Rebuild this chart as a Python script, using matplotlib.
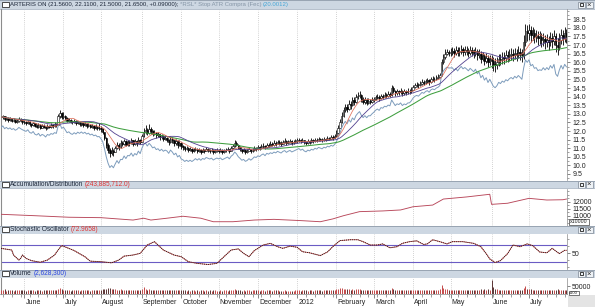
import numpy as np
import pandas as pd
import matplotlib
matplotlib.use("Agg")
import matplotlib.pyplot as plt
from matplotlib.patches import Rectangle
from matplotlib.transforms import ScaledTranslation
from matplotlib.ticker import MultipleLocator, FixedLocator

plt.rcParams['font.family'] = ['Liberation Sans', 'DejaVu Sans']

# ---------------- data (daily, trading days from 2011-05-13) ----------------
closes = [
    # May 2011
    12.80, 12.85, 12.70, 12.75, 12.65, 12.70, 12.60, 12.65, 12.55, 12.60, 12.70, 12.62, 12.55,
    # Jun
    12.50, 12.45, 12.55, 12.40, 12.35, 12.45, 12.30, 12.25, 12.35, 12.20, 12.30, 12.25, 12.15, 12.30,
    12.25, 12.35, 12.30, 12.40, 12.35, 12.85, 13.05, 12.80,
    # Jul
    12.90, 12.75, 12.60, 12.65, 12.55, 12.50, 12.60, 12.45, 12.50, 12.40, 12.45, 12.35, 12.40, 12.30,
    12.35, 12.25, 12.30, 12.20, 12.25, 12.15, 12.20,
    # Aug
    12.10, 11.95, 11.60, 11.20, 10.90, 10.70, 10.85, 10.75, 11.00, 11.20, 11.05, 11.30, 11.25, 11.40,
    11.20, 11.35, 11.30, 11.45, 11.25, 11.40, 11.30, 11.50, 11.35,
    # Sep
    11.70, 11.95, 12.05, 11.90, 12.10, 12.00, 11.85, 11.90, 11.75, 11.80, 11.65, 11.70, 11.55, 11.60,
    11.50, 11.35, 11.55, 11.45, 11.30, 11.40, 11.20, 11.30,
    # Oct
    11.10, 11.05, 10.95, 11.00, 10.90, 10.95, 10.85, 10.90, 10.95, 10.85, 10.90, 10.80, 10.90, 10.85,
    10.95, 10.90, 10.85, 10.90, 10.80, 10.85, 10.90,
    # Nov
    10.85, 10.90, 10.80, 10.85, 10.90, 10.95, 10.85, 11.00, 11.10, 11.30, 11.20, 11.05, 10.95, 10.85,
    10.90, 10.80, 10.85, 10.95, 10.85, 10.90, 11.00, 10.95,
    # Dec
    11.05, 11.00, 11.10, 11.15, 11.05, 11.20, 11.15, 11.25, 11.20, 11.30, 11.25, 11.35, 11.30, 11.25,
    11.35, 11.40, 11.30, 11.35, 11.40, 11.30, 11.35, 11.40,
    # Jan 2012
    11.45, 11.50, 11.40, 11.45, 11.35, 11.30, 11.40, 11.35, 11.45, 11.40, 11.50, 11.45, 11.55, 11.50,
    11.45, 11.55, 11.50, 11.60, 11.55, 11.65, 11.60, 11.70,
    # Feb
    11.90, 12.20, 12.50, 12.90, 13.20, 13.40, 13.30, 13.60, 13.50, 13.80, 13.70, 13.95, 14.05, 14.10,
    13.85, 13.70, 13.80, 13.65, 13.75, 13.70, 13.80,
    # Mar
    13.85, 13.95, 14.00, 13.90, 14.05, 14.00, 14.10, 14.05, 14.15, 14.10, 14.50, 14.35, 14.20, 14.30,
    14.25, 14.35, 14.20, 14.30, 14.25, 14.35, 14.30, 14.40,
    # Apr
    14.55, 14.65, 14.70, 14.65, 14.75, 14.85, 14.80, 14.90, 14.95, 14.85, 15.00, 15.05, 15.00, 15.10,
    15.15, 15.25, 16.00, 16.30, 16.50, 16.60, 16.55,
    # May
    16.60, 16.65, 16.55, 16.70, 16.60, 16.65, 16.75, 16.60, 16.70, 16.65, 16.55, 16.70, 16.60, 16.50,
    16.65, 16.40, 16.50, 16.20, 16.35, 16.10, 16.25, 16.00, 16.20,
    # Jun
    16.05, 15.90, 15.85, 16.00, 16.20, 16.15, 16.30, 16.25, 16.40, 16.35, 16.45, 16.50, 16.40, 16.55,
    16.45, 16.60, 16.50, 16.40, 17.20, 17.80, 17.70,
    # Jul
    17.90, 17.60, 17.70, 17.50, 17.55, 17.40, 17.45, 17.30, 17.35, 17.20, 17.30, 17.15, 17.40, 17.25,
    17.50, 17.00, 16.90, 17.30, 17.60, 17.40, 17.70, 17.55,
]

highs = [
    12.95, 12.95, 12.90, 12.85, 12.80, 12.80, 12.75, 12.75, 12.70, 12.70, 12.80, 12.75, 12.68,
    12.62, 12.58, 12.65, 12.58, 12.48, 12.55, 12.48, 12.38, 12.45, 12.38, 12.40, 12.38, 12.30, 12.40,
    12.36, 12.45, 12.42, 12.50, 12.48, 13.00, 13.25, 13.10,
    13.10, 12.95, 12.80, 12.75, 12.70, 12.62, 12.70, 12.62, 12.60, 12.55, 12.55, 12.48, 12.50, 12.45,
    12.45, 12.40, 12.42, 12.35, 12.38, 12.30, 12.45,
    12.30, 12.15, 11.95, 11.65, 11.30, 11.00, 11.05, 10.95, 11.15, 11.35, 11.30, 11.45, 11.42, 11.55,
    11.45, 11.50, 11.45, 11.60, 11.48, 11.55, 11.45, 11.65, 11.55,
    11.85, 12.15, 12.35, 12.15, 12.40, 12.25, 12.05, 12.05, 11.95, 11.95, 11.85, 11.85, 11.75, 11.75,
    11.65, 11.55, 11.70, 11.65, 11.50, 11.55, 11.45, 11.45,
    11.35, 11.20, 11.10, 11.12, 11.05, 11.05, 11.00, 11.00, 11.05, 11.00, 11.00, 10.95, 11.00, 10.98,
    11.05, 11.02, 10.98, 11.00, 10.95, 10.95, 11.00,
    10.98, 11.00, 10.95, 10.95, 11.00, 11.05, 10.98, 11.10, 11.25, 11.45, 11.40, 11.25, 11.10, 10.98,
    11.00, 10.95, 10.95, 11.05, 10.98, 11.02, 11.12, 11.08,
    11.18, 11.12, 11.22, 11.28, 11.20, 11.32, 11.28, 11.42, 11.35, 11.45, 11.40, 11.48, 11.45, 11.40,
    11.50, 11.58, 11.45, 11.48, 11.55, 11.45, 11.48, 11.55,
    11.58, 11.62, 11.55, 11.58, 11.50, 11.42, 11.52, 11.48, 11.58, 11.55, 11.62, 11.58, 11.68, 11.62,
    11.58, 11.68, 11.62, 11.72, 11.68, 11.78, 11.75, 11.85,
    12.05, 12.35, 12.70, 13.10, 13.40, 13.60, 13.55, 13.80, 13.75, 14.00, 13.95, 14.15, 14.25, 14.30,
    14.15, 13.95, 13.98, 13.90, 13.92, 13.88, 13.98,
    14.00, 14.10, 14.15, 14.10, 14.18, 14.15, 14.25, 14.20, 14.30, 14.28, 14.65, 14.60, 14.40, 14.45,
    14.40, 14.50, 14.40, 14.45, 14.40, 14.50, 14.45, 14.55,
    14.68, 14.80, 14.85, 14.80, 14.90, 15.00, 14.95, 15.05, 15.10, 15.00, 15.15, 15.20, 15.15, 15.25,
    15.30, 15.40, 16.20, 16.50, 16.80, 16.78, 16.72,
    16.85, 16.90, 16.82, 16.95, 16.88, 16.90, 17.00, 16.90, 16.95, 16.92, 16.82, 16.95, 16.88, 16.78,
    16.90, 16.75, 16.75, 16.65, 16.60, 16.50, 16.52, 16.40, 16.45,
    16.45, 16.30, 16.22, 16.30, 16.50, 16.48, 16.60, 16.58, 16.70, 16.68, 16.78, 16.85, 16.75, 16.85,
    16.80, 16.92, 16.85, 16.75, 17.60, 18.25, 18.15,
    18.25, 18.12, 18.05, 17.92, 17.90, 17.80, 17.82, 17.70, 17.72, 17.60, 17.65, 17.55, 17.78, 17.68,
    17.90, 17.72, 17.40, 17.70, 17.95, 17.85, 18.05, 17.95,
]

lows = [
    12.65, 12.70, 12.60, 12.62, 12.55, 12.58, 12.50, 12.52, 12.45, 12.48, 12.55, 12.52, 12.42,
    12.40, 12.35, 12.40, 12.32, 12.25, 12.30, 12.22, 12.15, 12.20, 12.10, 12.15, 12.15, 12.05, 12.12,
    12.15, 12.20, 12.20, 12.25, 12.25, 12.35, 12.75, 12.70,
    12.70, 12.65, 12.50, 12.52, 12.45, 12.40, 12.45, 12.35, 12.38, 12.30, 12.32, 12.25, 12.28, 12.20,
    12.22, 12.15, 12.18, 12.08, 12.12, 12.05, 12.05,
    11.95, 11.80, 11.45, 11.00, 10.70, 10.50, 10.60, 10.55, 10.75, 10.95, 10.90, 11.00, 11.10, 11.20,
    11.10, 11.15, 11.15, 11.25, 11.15, 11.20, 11.15, 11.30, 11.25,
    11.35, 11.65, 11.85, 11.75, 11.85, 11.85, 11.70, 11.75, 11.60, 11.65, 11.50, 11.55, 11.40, 11.45,
    11.35, 11.20, 11.30, 11.30, 11.10, 11.20, 11.00, 11.10,
    10.95, 10.92, 10.82, 10.88, 10.78, 10.82, 10.72, 10.78, 10.82, 10.72, 10.78, 10.68, 10.75, 10.74,
    10.82, 10.80, 10.74, 10.78, 10.68, 10.74, 10.78,
    10.72, 10.78, 10.68, 10.74, 10.78, 10.82, 10.74, 10.84, 10.95, 11.05, 11.10, 10.95, 10.85, 10.72,
    10.78, 10.65, 10.72, 10.82, 10.74, 10.78, 10.86, 10.85,
    10.92, 10.90, 10.98, 11.02, 10.95, 11.02, 11.05, 11.10, 11.10, 11.15, 11.15, 11.22, 11.20, 11.15,
    11.22, 11.28, 11.20, 11.24, 11.28, 11.20, 11.24, 11.28,
    11.32, 11.38, 11.28, 11.34, 11.22, 11.18, 11.26, 11.24, 11.32, 11.30, 11.38, 11.34, 11.42, 11.40,
    11.35, 11.42, 11.40, 11.48, 11.45, 11.52, 11.50, 11.58,
    11.65, 11.85, 12.15, 12.45, 12.80, 13.10, 13.10, 13.25, 13.30, 13.45, 13.50, 13.65, 13.85, 13.90,
    13.70, 13.55, 13.60, 13.50, 13.55, 13.55, 13.62,
    13.70, 13.78, 13.85, 13.75, 13.85, 13.85, 13.92, 13.90, 13.98, 13.95, 14.05, 14.20, 14.05, 14.12,
    14.10, 14.18, 14.05, 14.12, 14.10, 14.18, 14.15, 14.22,
    14.38, 14.50, 14.55, 14.52, 14.60, 14.70, 14.65, 14.75, 14.80, 14.70, 14.82, 14.90, 14.86, 14.95,
    15.00, 15.08, 15.20, 15.90, 16.20, 16.40, 16.38,
    16.35, 16.40, 16.30, 16.40, 16.35, 16.38, 16.48, 16.35, 16.45, 16.40, 16.30, 16.42, 16.35, 16.25,
    16.35, 16.15, 16.22, 15.95, 16.05, 15.85, 15.95, 15.72, 15.85,
    15.65, 15.50, 15.45, 15.60, 15.78, 15.82, 15.92, 15.92, 16.02, 16.00, 16.10, 16.15, 16.05, 16.18,
    16.10, 16.22, 16.15, 16.00, 16.20, 16.95, 17.25,
    17.30, 17.15, 17.28, 17.10, 17.15, 16.98, 17.05, 16.88, 16.95, 16.80, 16.90, 16.72, 16.95, 16.85,
    17.00, 16.60, 16.45, 16.70, 17.05, 16.98, 17.18, 17.12,
]

# volume in units of 100,000 shares
volume_100k = [
    28, 25, 30, 22, 26, 24, 27, 21, 25, 23, 29, 26, 24,
    27, 22, 25, 28, 23, 26, 21, 24, 27, 25, 22, 26, 24, 28, 23, 25, 27, 24, 26, 35, 38, 30,
    29, 26, 24, 27, 22, 25, 23, 26, 24, 22, 25, 27, 23, 24, 26, 22, 25, 23, 27, 24, 26,
    28, 30, 34, 36, 38, 40, 33, 30, 32, 29, 27, 30, 26, 28, 25, 27, 24, 26, 25, 23, 27, 25, 24,
    30, 45, 32, 28, 30, 26, 24, 27, 25, 23, 26, 24, 28, 25, 23, 27, 24, 26, 29, 25, 27, 24,
    25, 23, 26, 22, 24, 21, 25, 23, 22, 24, 21, 23, 25, 22, 24, 21, 23, 22, 25, 23, 21,
    22, 24, 21, 23, 25, 22, 24, 26, 28, 32, 27, 24, 23, 22, 25, 21, 23, 24, 22, 25, 23, 24,
    24, 22, 25, 23, 21, 24, 26, 23, 22, 25, 24, 23, 21, 20, 22, 24, 19, 20, 22, 18, 21, 23,
    23, 25, 22, 24, 26, 23, 21, 24, 25, 22, 27, 24, 23, 26, 22, 25, 24, 27, 23, 26, 25, 28,
    30, 34, 38, 40, 36, 33, 30, 32, 29, 31, 28, 30, 33, 31, 27, 26, 28, 25, 27, 26, 28,
    27, 25, 28, 24, 26, 25, 27, 24, 26, 25, 38, 30, 26, 25, 27, 24, 26, 25, 23, 26, 25, 27,
    26, 25, 27, 24, 26, 28, 25, 27, 26, 24, 27, 26, 25, 28, 27, 30, 62, 40, 35, 30, 28,
    28, 26, 27, 25, 28, 26, 29, 25, 27, 26, 24, 28, 26, 25, 27, 28, 26, 30, 27, 31, 28, 32, 29,
    90, 45, 32, 30, 29, 27, 28, 26, 27, 25, 28, 26, 27, 25, 26, 28, 25, 27, 38, 50, 35,
    32, 30, 28, 27, 29, 26, 28, 25, 27, 26, 24, 27, 25, 28, 26, 29, 30, 27, 26, 28, 25, 26,
]

# Accumulation/Distribution (x10000), read at selected trading-day indices
ad_idx = [0, 19, 38, 56, 74, 80, 84, 93, 102, 112, 119, 130, 142, 153, 168, 179, 186, 192, 201,
          214, 224, 231, 242, 248, 261, 274, 275, 284, 296, 306, 315, 317]
ad_vals = [11100, 11000, 10890, 10860, 10690, 10820, 10690, 10820, 10960, 10820, 10570, 10570,
           10690, 10740, 10650, 10570, 10770, 11000, 11290, 11340, 11410, 11640, 11760, 12190,
           12340, 12530, 11810, 11890, 12240, 12120, 12140, 12190]

# Stochastic oscillator, read at selected trading-day indices
stoch_idx = [0, 6, 7, 10, 11, 12, 14, 17, 22, 26, 30, 32, 34, 38, 41, 47, 50, 56, 62, 66,
             69, 74, 78, 82, 86, 88, 91, 97, 101, 105, 110, 116, 121, 125, 129, 133, 136, 139,
             142, 147, 151, 155, 158, 162, 166, 169, 173, 179, 183, 186, 190, 196, 200, 203,
             207, 211, 214, 218, 222, 225, 229, 233, 237, 239, 242, 246, 250, 253, 259, 265,
             269, 272, 274, 277, 280, 284, 287, 291, 295, 298, 302, 306, 309, 313, 316, 317]
stoch_vals = [68, 62, 44, 26, 32, 44, 32, 24, 18, 26, 44, 62, 78, 68, 60, 38, 22, 20, 16, 26,
              40, 44, 50, 80, 92, 80, 62, 44, 38, 20, 14, 10, 14, 38, 62, 66, 50, 38,
              60, 80, 86, 74, 68, 76, 72, 56, 52, 42, 55, 74, 96, 99, 99, 92,
              80, 80, 84, 70, 74, 86, 92, 95, 82, 84, 99, 92, 84, 92, 92, 86,
              74, 49, 30, 17, 24, 49, 80, 74, 84, 78, 55, 52, 68, 49, 61, 61]

month_labels = ["June", "July", "August", "September", "October", "November", "December",
                "2012", "February", "March", "April", "May", "June", "July"]

title_parts = [("ARTERIS ON (21.5600, 22.1100, 21.5000, 21.6500, +0.09000);", "#1c2638"),
               ("*RSL* Stop ATR Compra (Fec)", "#8595a6"),
               ("(20.0012)", "#45a6d6")]

# ---------------- derived series ----------------
closes = np.array(closes)
n = len(closes)
x = np.arange(n)
opens = np.r_[closes[0], closes[:-1]]
highs = np.maximum(np.array(highs), np.maximum(opens, closes))
lows = np.minimum(np.array(lows), np.minimum(opens, closes))
volume = np.array(volume_100k) * 1e5

cs = pd.Series(closes)
ma_fast = cs.rolling(9, min_periods=1).mean()
ma_mid = cs.rolling(21, min_periods=1).mean()
ma_slow = cs.rolling(50, min_periods=1).mean()
prev_c = np.r_[closes[0], closes[:-1]]
tr = np.maximum(highs - lows, np.maximum(np.abs(highs - prev_c), np.abs(lows - prev_c)))
atr = pd.Series(tr).rolling(10, min_periods=1).mean()
stop = closes - 2.0 * atr

dates = pd.bdate_range('2011-05-13', periods=n)
month_idx = [i for i in range(1, n) if dates[i].month != dates[i - 1].month]
week_idx = [i for i in range(n) if dates[i].weekday() == 0]

# ---------------- figure ----------------
W, H = 595, 307
fig = plt.figure(figsize=(W / 100, H / 100), dpi=100)
fig.patch.set_facecolor('white')


def rect(x0, y0, x1, y1):
    return [x0 / W, 1 - y1 / H, (x1 - x0) / W, (y1 - y0) / H]


PX0, PX1 = 0.5, 567
XLIM = (-0.3, n - 0.7)
renderer = fig.canvas.get_renderer()


def header(y0, y1, parts, fs=4.7):
    hax = fig.add_axes(rect(0, y0, W, y1))
    hax.set_xlim(0, W)
    hax.set_ylim(y1, y0)
    hax.axis('off')
    hax.add_patch(Rectangle((0, y0), W, y1 - y0, facecolor='#cdd7e2', edgecolor='none'))
    hax.plot([0, W], [y0 + 0.3, y0 + 0.3], color='#98a4b2', lw=0.7)
    hax.plot([0, W], [y1 - 0.3, y1 - 0.3], color='#aeb8c4', lw=0.5)
    yc = (y0 + y1) / 2
    hax.add_patch(Rectangle((1.5, yc - 2.3), 7.5, 4.6, facecolor='white', edgecolor='#303030', lw=0.6))
    xx = 10
    for s, c in parts:
        t = hax.text(xx, yc + 0.2, s, color=c, fontsize=fs, va='center', ha='left')
        xx += t.get_window_extent(renderer).width + 1.6
    for bx in [577.5, 585.5]:
        hax.add_patch(Rectangle((bx, yc - 3.2), 7, 6.4, facecolor='#eef2f6', edgecolor='#7d8894', lw=0.5))
    hax.add_patch(Rectangle((579.5, yc - 1.6), 3, 3, facecolor='none', edgecolor='#202020', lw=0.6))
    hax.text(589, yc + 0.2, "\u00d7", fontsize=5.5, color='#202020', ha='center', va='center')
    return hax


def style_panel(ax):
    ax.set_xlim(*XLIM)
    ax.set_facecolor('white')
    for m in month_idx:
        ax.axvline(m, color='#c4c4c4', lw=0.6, ls=(0, (1, 1.5)), zorder=0)
    ax.yaxis.tick_right()
    ax.tick_params(axis='y', which='major', direction='out', colors='#555555', labelcolor='#222222',
                   labelsize=5, length=2.5, width=0.5, pad=1.2)
    ax.tick_params(axis='y', which='minor', direction='out', colors='#555555', length=1.5, width=0.4)
    ax.set_xticks([])
    for side in ('top', 'bottom'):
        ax.spines[side].set_visible(False)
    ax.spines['left'].set_color('#8c8c8c')
    ax.spines['left'].set_linewidth(0.8)
    ax.spines['right'].set_color('#8c8c8c')
    ax.spines['right'].set_linewidth(0.5)


# ---- main price panel ----
header(0, 9.5, title_parts, fs=4.3)
ax = fig.add_axes(rect(PX0, 9.5, PX1, 180.5))
style_panel(ax)
ax.vlines(x, lows, highs, color='black', lw=0.6, zorder=2)
up = closes >= opens
dn = ~up
ax.bar(x[up], (closes - opens)[up], bottom=opens[up], width=0.8, facecolor='white',
       edgecolor='black', lw=0.4, zorder=2.5)
ax.bar(x[dn], (closes - opens)[dn], bottom=opens[dn], width=0.8, facecolor='black',
       edgecolor='black', lw=0.4, zorder=2.5)
ax.plot(x, stop, color='#7d9cbc', lw=0.7, zorder=3)
ax.plot(x, ma_slow, color='#3f9f3f', lw=0.75, zorder=3)
ax.plot(x, ma_mid, color='#52418f', lw=0.6, zorder=3)
ax.plot(x, ma_fast, color='#e0705a', lw=0.55, zorder=3)
ax.set_ylim(9.12, 19.07)
ax.yaxis.set_major_locator(FixedLocator(np.arange(9.5, 18.6, 0.5)))
ax.yaxis.set_major_formatter(plt.FuncFormatter(lambda v, p: f"{v:.1f}"))
ax.yaxis.set_minor_locator(MultipleLocator(0.25))

# ---- accumulation / distribution ----
header(180.5, 188.5, [("Accumulation/Distribution", "#1c2638"), ("(243,885,712.0)", "#e03434")])
axa = fig.add_axes(rect(PX0, 188.5, PX1, 225.5))
style_panel(axa)
axa.plot(ad_idx, ad_vals, color='#b8475a', lw=0.65, zorder=3)
axa.set_ylim(10300, 12943)
axa.set_yticks([11000, 11500, 12000])
axa.set_yticklabels(["11000", "11500", "12000"])
axa.yaxis.set_minor_locator(MultipleLocator(250))

# ---- stochastic ----
header(225.5, 234, [("Stochastic Oscillator", "#1c2638"), ("(72.9658)", "#e03434")])
axs = fig.add_axes(rect(PX0, 234, PX1, 269.5))
style_panel(axs)
axs.axhline(80, color='#6b5cc4', lw=0.8, zorder=2)
axs.axhline(20, color='#6b5cc4', lw=0.8, zorder=2)
axs.plot(stoch_idx, stoch_vals, color='#d94a4a', lw=0.55, zorder=3)
axs.plot(stoch_idx, stoch_vals, color='#202020', lw=0.7, ls=(0, (1, 1)), zorder=4)
axs.set_ylim(-8, 119.6)
axs.set_yticks([50])
axs.set_yticklabels(["50"])
axs.yaxis.set_minor_locator(FixedLocator([0, 25, 75, 100]))

# ---- volume ----
header(269.5, 278, [("Volume", "#1c2638"), ("(2,628,300)", "#2a46e0")])
axv = fig.add_axes(rect(PX0, 278, PX1, 294))
style_panel(axv)
vcol = np.where(up, '#c44a4a', '#5a3434')
axv.vlines(x, 0, volume, colors=vcol, lw=0.7, zorder=3)
axv.set_ylim(0, 10.5e6)
axv.set_yticks([5e6])
axv.set_yticklabels(["50000"])
axv.spines['bottom'].set_visible(True)
axv.spines['bottom'].set_color('#8c8c8c')
axv.spines['bottom'].set_linewidth(0.5)
axv.set_xticks(month_idx)
axv.set_xticklabels(month_labels, ha='left', fontsize=5, color='#222222')
axv.set_xticks(week_idx, minor=True)
axv.tick_params(axis='x', which='major', direction='out', length=3, width=0.5, colors='#555555',
                labelcolor='#222222', pad=0.8)
axv.tick_params(axis='x', which='minor', direction='out', length=2, width=0.4, colors='#555555')
shift = ScaledTranslation(1.2 / 100, 0, fig.dpi_scale_trans)
for lbl in axv.get_xticklabels():
    lbl.set_transform(lbl.get_transform() + shift)

# ---- overlay: scale boxes and corner ----
ov = fig.add_axes([0, 0, 1, 1], zorder=10)
ov.set_xlim(0, W)
ov.set_ylim(H, 0)
ov.axis('off')
ov.add_patch(Rectangle((567.5, 294.5), 27.5, 12.5, facecolor='#e4e4e4', edgecolor='none'))
ov.add_patch(Rectangle((568.5, 218.5), 20, 6, facecolor='white', edgecolor='#404040', lw=0.5))
ov.text(569.5, 221.6, "x10000", fontsize=3.8, color='#222222', va='center', ha='left')
ov.add_patch(Rectangle((568.5, 290.8), 10.5, 3.8, facecolor='white', edgecolor='#404040', lw=0.5))
ov.text(569.2, 292.8, "x100", fontsize=3.0, color='#222222', va='center', ha='left')

fig.savefig("out.png", dpi=100, facecolor='white')
